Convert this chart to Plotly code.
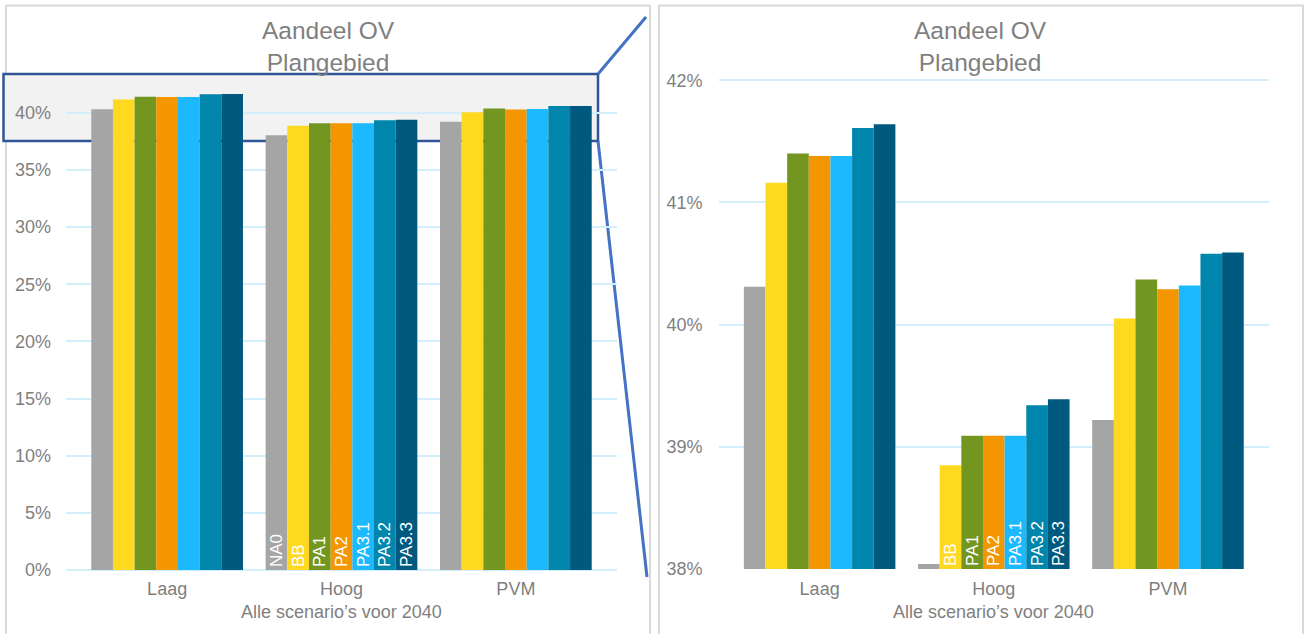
import plotly.graph_objects as go

# ---------------- data ----------------
categories = ["Laag", "Hoog", "PVM"]
series_names = ["NA0", "BB", "PA1", "PA2", "PA3.1", "PA3.2", "PA3.3"]
na0 = [40.31, 38.04, 39.22]
bb = [41.16, 38.85, 40.05]
pa1 = [41.40, 39.09, 40.37]
pa2 = [41.38, 39.09, 40.29]
pa31 = [41.38, 39.09, 40.32]
pa32 = [41.61, 39.34, 40.58]
pa33 = [41.64, 39.39, 40.59]
series_values = [na0, bb, pa1, pa2, pa31, pa32, pa33]
left_ticks = [0, 5, 10, 15, 20, 25, 30, 35, 40]
right_ticks = [38, 39, 40, 41, 42]
labelled_category = "Hoog"
title_text = "Aandeel OV<br>Plangebied"
xaxis_title = "Alle scenario\u2019s voor 2040"

# ---------------- styles ----------------
colors = ["#A5A5A5", "#FFD91F", "#739620", "#F39600", "#1CB9FF", "#0086AD", "#005A80"]
FONT = "Liberation Sans, Arial, sans-serif"
GREY = "#7F7F7F"
GRID = "#D3EFFB"
W, H = 1306, 634
RIGHT_BASE = 38


def px(x):
    return x / W


def py(y):
    return 1 - y / H


fig = go.Figure()

for name, vals, col in zip(series_names, series_values, colors):
    # left panel: full scale
    txt = [name if c == labelled_category else "" for c in categories]
    fig.add_trace(go.Bar(
        x=categories, y=vals, name=name, marker=dict(color=col, line=dict(width=0)),
        text=txt, textposition="inside", insidetextanchor="start", textangle=-90,
        textfont=dict(color="white", size=17, family=FONT),
        xaxis="x", yaxis="y", showlegend=False,
    ))
    # right panel: zoomed scale (bars start at axis minimum)
    txt2 = [name if (c == labelled_category and v - RIGHT_BASE > 0.3) else ""
            for c, v in zip(categories, vals)]
    fig.add_trace(go.Bar(
        x=categories, y=[v - RIGHT_BASE for v in vals], base=RIGHT_BASE, name=name,
        marker=dict(color=col, line=dict(width=0)),
        text=txt2, textposition="inside", insidetextanchor="start", textangle=-90,
        textfont=dict(color="white", size=17, family=FONT),
        xaxis="x2", yaxis="y2", showlegend=False,
    ))

axis_common = dict(
    tickfont=dict(size=18, color=GREY, family=FONT),
    showline=False, ticks="", automargin=False,
)

fig.update_layout(
    width=W, height=H,
    margin=dict(l=0, r=0, t=0, b=0, pad=0, autoexpand=False),
    paper_bgcolor="white", plot_bgcolor="rgba(0,0,0,0)",
    barmode="group", bargap=0.13, bargroupgap=0,
    uniformtext=dict(minsize=17, mode="show"),
    font=dict(family=FONT, color=GREY),
    xaxis=dict(domain=[px(66), px(617)], range=[-0.58, 2.58], anchor="y",
               showgrid=False, zeroline=False, ticklabelstandoff=6, **axis_common),
    yaxis=dict(domain=[py(570), py(67)], range=[0, 44], anchor="x",
               tickmode="array", tickvals=left_ticks, ticktext=[f"{t}%" for t in left_ticks],
               showgrid=True, gridcolor=GRID, gridwidth=2,
               zeroline=True, zerolinecolor=GRID, zerolinewidth=2,
               ticklabelstandoff=14, **axis_common),
    xaxis2=dict(domain=[px(718.6), px(1269)], range=[-0.58, 2.58], anchor="y2",
                showgrid=False, zeroline=False, ticklabelstandoff=6, **axis_common),
    yaxis2=dict(domain=[py(569.5), py(79)], range=[37.996, 42.01], anchor="x2",
                tickmode="array", tickvals=right_ticks, ticktext=[f"{t}%" for t in right_ticks],
                showgrid=True, gridcolor=GRID, gridwidth=2,
                zeroline=False, ticklabelstandoff=15, **axis_common),
)

shapes = [
    # chart frames
    dict(type="rect", xref="paper", yref="paper", x0=px(6), x1=px(650), y0=py(660), y1=py(5.5),
         line=dict(color="#D9D9D9", width=2), fillcolor="rgba(0,0,0,0)", layer="below"),
    dict(type="rect", xref="paper", yref="paper", x0=px(659), x1=px(1303), y0=py(660), y1=py(5.5),
         line=dict(color="#D9D9D9", width=2), fillcolor="rgba(0,0,0,0)", layer="below"),
    # zoom highlight box
    dict(type="rect", xref="paper", yref="paper", x0=px(3.5), x1=px(598), y0=py(141), y1=py(74),
         line=dict(color="#2F5597", width=2.5), fillcolor="#F2F2F2", layer="below"),
    # connector lines
    dict(type="line", xref="paper", yref="paper", x0=px(598), y0=py(74), x1=px(646), y1=py(17),
         line=dict(color="#4472C4", width=3), layer="above"),
    dict(type="line", xref="paper", yref="paper", x0=px(598), y0=py(141), x1=px(647), y1=py(577),
         line=dict(color="#4472C4", width=3), layer="below"),
]
fig.update_layout(shapes=shapes)

annotations = []
for cx in [(66 + 617) / 2, (718.6 + 1269) / 2]:
    annotations.append(dict(text=title_text, xref="paper", yref="paper", x=px(cx - 13), y=py(47),
                            xanchor="center", yanchor="middle", showarrow=False,
                            font=dict(size=24.5, color=GREY, family=FONT)))
    annotations.append(dict(text=xaxis_title, xref="paper", yref="paper", x=px(cx), y=py(612),
                            xanchor="center", yanchor="middle", showarrow=False,
                            font=dict(size=18, color=GREY, family=FONT)))
fig.update_layout(annotations=annotations)

fig.write_html("out.html", config={"displayModeBar": False},
               post_script="document.body.style.margin='0px';")
